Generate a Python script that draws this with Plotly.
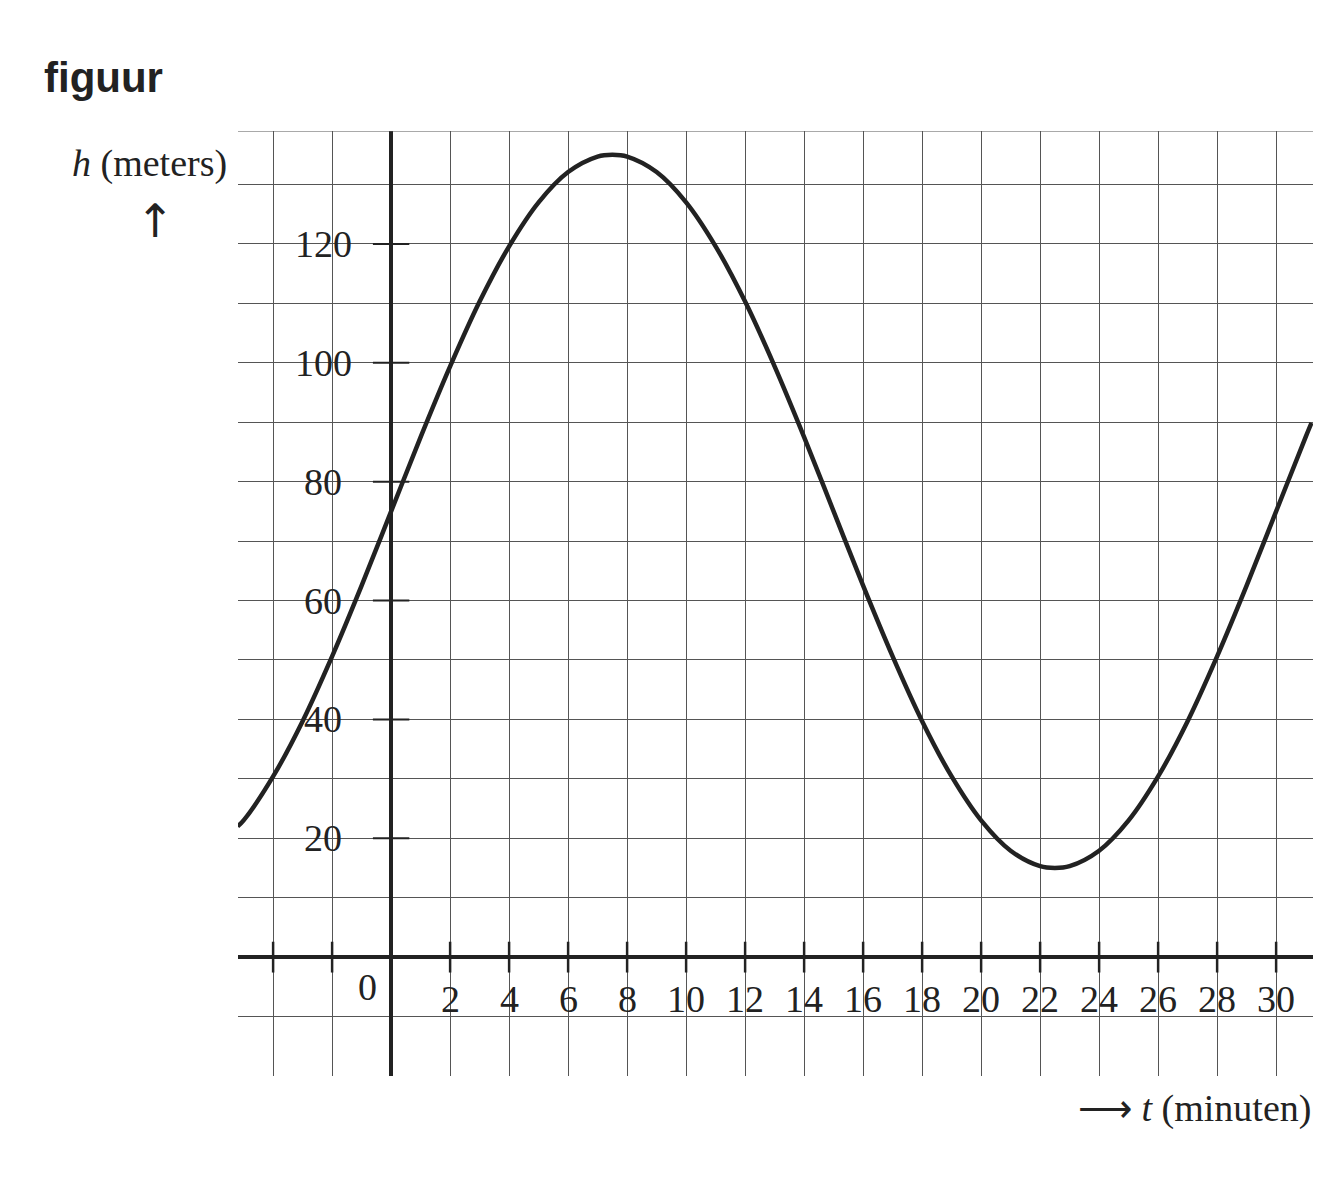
import plotly.graph_objects as go

t_vals = [-5.2,-5,-4,-3,-2,-1,0,1,2,3,4,5,6,7,7.5,8,9,10,11,12,13,14,15,16,17,18,19,20,21,22,22.5,23,24,25,26,27,28,29,30,31,31.2]
h_vals = [22,23.0,30.4,39.7,50.6,62.5,75,87.5,99.4,110.3,119.6,127.0,132.1,134.7,135,134.7,132.1,127.0,119.6,110.3,99.4,87.5,75,62.5,50.6,39.7,30.4,23.0,17.9,15.3,15,15.3,17.9,23.0,30.4,39.7,50.6,62.5,75,87.5,89.9]
x_ticks = [2,4,6,8,10,12,14,16,18,20,22,24,26,28,30]
y_ticks = [20,40,60,80,100,120]

serif = "Liberation Serif"
fig = go.Figure()
fig.add_trace(go.Scatter(x=t_vals, y=h_vals, mode="lines", line=dict(color="#222", width=4.5, shape="spline"), hoverinfo="skip"))
fig.add_trace(go.Scatter(x=[-4,-2]+x_ticks, y=[0]*17, mode="markers",
                         marker=dict(symbol="line-ns-open", size=22, color="#222", line=dict(color="#222", width=2.5)), hoverinfo="skip"))
fig.add_trace(go.Scatter(x=[0]*len(y_ticks), y=y_ticks, mode="markers",
                         marker=dict(symbol="line-ew-open", size=26, color="#222", line=dict(color="#222", width=2)), hoverinfo="skip"))

fig.update_layout(
    width=1341, height=1181, showlegend=False,
    plot_bgcolor="white", paper_bgcolor="white",
    margin=dict(l=230, r=36, t=123, b=113, autoexpand=False),
    xaxis=dict(range=[-5.19, 31.25], tick0=0, dtick=2, showgrid=True, gridcolor="#555", gridwidth=1,
               showticklabels=False, zeroline=True, zerolinecolor="#222", zerolinewidth=3.5),
    yaxis=dict(range=[-20, 139], tick0=0, dtick=10, showgrid=True, gridcolor="#555", gridwidth=1,
               showticklabels=False, zeroline=True, zerolinecolor="#222", zerolinewidth=3.5),
)
fig.add_shape(type="line", xref="paper", yref="y", x0=0, x1=1, y0=139, y1=139, line=dict(color="#555", width=1))
for v in y_ticks:
    fig.add_annotation(x=-2.3, y=v, text=str(v), showarrow=False, xanchor="center",
                       font=dict(family=serif, size=38, color="#222"))
for v in x_ticks:
    fig.add_annotation(x=v, y=-7, text=str(v), showarrow=False, font=dict(family=serif, size=38, color="#222"))
fig.add_annotation(x=-0.8, y=-5, text="0", showarrow=False, font=dict(family=serif, size=38, color="#222"))
fig.add_annotation(xref="paper", yref="paper", x=-0.182, y=1.084, xanchor="left", text="<b>figuur</b>", showarrow=False,
                   font=dict(family="Liberation Sans", size=42, color="#222"))
fig.add_annotation(xref="paper", yref="paper", x=-0.008, y=0.99, xanchor="right", text="<i>h</i> (meters)", showarrow=False,
                   font=dict(family=serif, size=38, color="#222"))
fig.add_annotation(xref="paper", yref="paper", x=-0.097, y=0.935, text="↑", showarrow=False,
                   font=dict(family="DejaVu Sans", size=46, color="#222"))
fig.add_annotation(xref="paper", yref="paper", x=1.0, y=-0.01, xanchor="right", yanchor="top", text="⟶ <i>t</i> (minuten)", showarrow=False,
                   font=dict(family=serif, size=38, color="#222"))
fig.write_html("out.html")
